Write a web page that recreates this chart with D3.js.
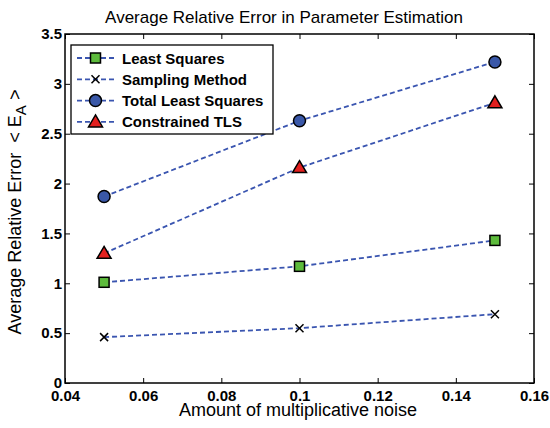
<!DOCTYPE html>
<html lang="en">
<head>
  <meta charset="UTF-8" />
  <title>Average Relative Error</title>
  <script src="https://d3js.org/d3.v7.min.js"></script>
  <style>
    html, body { margin: 0; background: #fff; }
    svg { display: block; font-family: "Liberation Sans", Arial, sans-serif; }
    .tick text { font-weight: bold; font-size: 15px; fill: #000; }
    .legend text { font-weight: bold; font-size: 15px; }
  </style>
</head>
<body>
  <svg id="chart" width="550" height="428"></svg>
  <script>
    // data
    const noise = [0.05, 0.10, 0.15];
    const leastSquares = [1.01, 1.17, 1.43];
    const sampling = [0.46, 0.55, 0.69];
    const totalLS = [1.87, 2.63, 3.22];
    const constrainedTLS = [1.30, 2.16, 2.81];
    const xTicks = [0.04, 0.06, 0.08, 0.1, 0.12, 0.14, 0.16];
    const yTicks = [0, 0.5, 1, 1.5, 2, 2.5, 3, 3.5];

    const series = [
      {name: 'Least Squares', values: leastSquares, marker: 'square', fill: '#5dbb3c'},
      {name: 'Sampling Method', values: sampling, marker: 'cross', fill: 'none'},
      {name: 'Total Least Squares', values: totalLS, marker: 'circle', fill: '#3a58a8'},
      {name: 'Constrained TLS', values: constrainedTLS, marker: 'triangle', fill: '#e3201f'}
    ];

    const lineColor = '#3a55b0';
    const m = {left: 65, right: 16, top: 34, bottom: 45};
    const W = 550, H = 428;
    const svg = d3.select('#chart');

    const x = d3.scaleLinear().domain([0.04, 0.16]).range([m.left, W - m.right]);
    const y = d3.scaleLinear().domain([0, 3.5]).range([H - m.bottom, m.top]);

    // axes (ticks pointing in, box style)
    const fmt = d => d3.format('')(+d.toFixed(2));
    svg.append('g')
      .attr('transform', `translate(0,${H - m.bottom})`)
      .call(d3.axisBottom(x).tickValues(xTicks).tickSize(-5).tickPadding(7).tickFormat(fmt))
      .call(g => g.select('.domain').remove());
    svg.append('g')
      .attr('transform', `translate(${m.left},0)`)
      .call(d3.axisLeft(y).tickValues(yTicks).tickSize(-5).tickPadding(3).tickFormat(fmt))
      .call(g => g.select('.domain').remove());
    svg.append('g')
      .attr('transform', `translate(0,${m.top})`)
      .call(d3.axisTop(x).tickValues(xTicks).tickSize(-5).tickFormat(''))
      .call(g => g.select('.domain').remove());
    svg.append('g')
      .attr('transform', `translate(${W - m.right},0)`)
      .call(d3.axisRight(y).tickValues(yTicks).tickSize(-5).tickFormat(''))
      .call(g => g.select('.domain').remove());

    svg.append('rect')
      .attr('x', m.left).attr('y', m.top)
      .attr('width', W - m.left - m.right).attr('height', H - m.top - m.bottom)
      .attr('fill', 'none').attr('stroke', '#000').attr('stroke-width', 1.5);

    function drawMarker(g, s) {
      if (s.marker === 'square') {
        g.append('rect').attr('x', -5).attr('y', -5).attr('width', 10).attr('height', 10)
          .attr('fill', s.fill).attr('stroke', '#000').attr('stroke-width', 1.5);
      } else if (s.marker === 'circle') {
        g.append('circle').attr('r', 6).attr('fill', s.fill).attr('stroke', '#000').attr('stroke-width', 1.5);
      } else if (s.marker === 'triangle') {
        g.append('path').attr('d', 'M0,-7L7,5L-7,5Z').attr('fill', s.fill)
          .attr('stroke', '#000').attr('stroke-width', 1.5).attr('stroke-linejoin', 'miter');
      } else {
        g.append('path').attr('d', 'M-4,-4L4,4M-4,4L4,-4').attr('stroke', '#000').attr('stroke-width', 1.5);
      }
    }

    const line = d3.line().x((d, i) => x(noise[i])).y(d => y(d));
    series.forEach(s => {
      svg.append('path').datum(s.values).attr('d', line)
        .attr('fill', 'none').attr('stroke', lineColor).attr('stroke-width', 1.8)
        .attr('stroke-dasharray', '5,3');
      s.values.forEach((v, i) => {
        const g = svg.append('g').attr('transform', `translate(${x(noise[i])},${y(v)})`);
        drawMarker(g, s);
      });
    });

    // legend
    const lg = svg.append('g').attr('class', 'legend');
    lg.append('rect').attr('x', 71).attr('y', 45).attr('width', 202).attr('height', 89)
      .attr('fill', '#fff').attr('stroke', '#000').attr('stroke-width', 1.3);
    series.forEach((s, i) => {
      const yy = 58 + i * 21.3;
      lg.append('line').attr('x1', 77).attr('x2', 114).attr('y1', yy).attr('y2', yy)
        .attr('stroke', lineColor).attr('stroke-width', 1.8).attr('stroke-dasharray', '5,3');
      drawMarker(lg.append('g').attr('transform', `translate(95.5,${yy})`), s);
      lg.append('text').attr('x', 122).attr('y', yy + 5.5).text(s.name);
    });

    // titles
    svg.append('text').attr('x', 284).attr('y', 23).attr('text-anchor', 'middle')
      .attr('font-size', 17).text('Average Relative Error in Parameter Estimation');
    svg.append('text').attr('x', 298).attr('y', 416).attr('text-anchor', 'middle')
      .attr('font-size', 18).text('Amount of multiplicative noise');
    const yl = svg.append('text').attr('transform', 'translate(21,212) rotate(-90)')
      .attr('text-anchor', 'middle').attr('font-size', 18).attr('xml:space', 'preserve');
    yl.append('tspan').text('Average Relative Error  < E');
    yl.append('tspan').attr('dy', 5).attr('font-size', 15).text('A');
    yl.append('tspan').attr('dy', -5).text(' >');
  </script>
</body>
</html>
